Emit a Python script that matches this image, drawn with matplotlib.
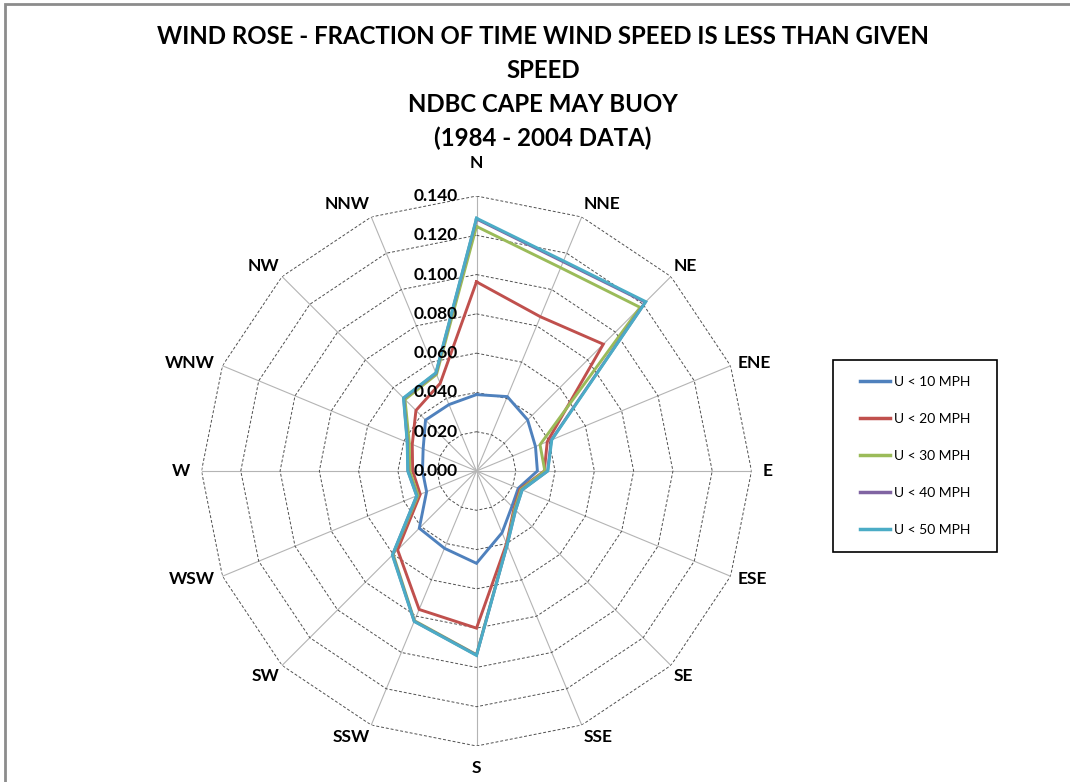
import numpy as np
import matplotlib
matplotlib.use("Agg")
import matplotlib.pyplot as plt
from matplotlib.patches import Rectangle

# ---------------- data ----------------
directions = ['N', 'NNE', 'NE', 'ENE', 'E', 'ESE', 'SE', 'SSE',
              'S', 'SSW', 'SW', 'WSW', 'W', 'WNW', 'NW', 'NNW']
series_names = ['U < 10 MPH', 'U < 20 MPH', 'U < 30 MPH', 'U < 40 MPH', 'U < 50 MPH']
u10 = [0.0389, 0.0410, 0.0368, 0.0325, 0.0310, 0.0230, 0.0255, 0.0340,
       0.0470, 0.0426, 0.0412, 0.0275, 0.0275, 0.0294, 0.0367, 0.0366]
u20 = [0.0963, 0.0850, 0.0913, 0.0390, 0.0345, 0.0240, 0.0270, 0.0400,
       0.0800, 0.0763, 0.0568, 0.0310, 0.0325, 0.0354, 0.0436, 0.0483]
u30 = [0.1245, 0.1120, 0.1178, 0.0350, 0.0348, 0.0245, 0.0275, 0.0405,
       0.0935, 0.0825, 0.0600, 0.0322, 0.0340, 0.0370, 0.0515, 0.0532]
u40 = [0.1283, 0.1153, 0.1215, 0.0412, 0.0362, 0.0251, 0.0281, 0.0407,
       0.0937, 0.0828, 0.0604, 0.0329, 0.0349, 0.0381, 0.0524, 0.0539]
u50 = [0.1287, 0.1158, 0.1219, 0.0415, 0.0363, 0.0252, 0.0282, 0.0408,
       0.0939, 0.0829, 0.0606, 0.0330, 0.0350, 0.0382, 0.0526, 0.0541]
r_ticks = [0.000, 0.020, 0.040, 0.060, 0.080, 0.100, 0.120, 0.140]
title_lines = ['WIND ROSE - FRACTION OF TIME WIND SPEED IS LESS THAN GIVEN',
               'SPEED', 'NDBC CAPE MAY BUOY', '(1984 - 2004 DATA)']

colors = ['#4F81BD', '#C0504D', '#9BBB59', '#8064A2', '#4BACC6']

plt.rcParams['font.family'] = ['Lato', 'DejaVu Sans']

W, H = 1070, 782
fig = plt.figure(figsize=(W / 100, H / 100), dpi=100)
fig.patch.set_facecolor('white')

# outer chart frame
fig.patches.append(Rectangle((5 / W, -0.1), 1.2, 1 - 4 / H + 0.1,
                             transform=fig.transFigure, fill=False,
                             edgecolor='#8C8C8C', lw=2))

cx, cy, R = 476.5, 471, 275
ax = fig.add_axes([(cx - R) / W, (H - cy - R) / H, 2 * R / W, 2 * R / H],
                  projection='polar')
ax.set_theta_zero_location('N')
ax.set_theta_direction(-1)
ax.set_ylim(0, r_ticks[-1])
ax.set_axis_off()

n = len(directions)
theta = np.deg2rad(np.arange(n) * 360.0 / n)
theta_c = np.append(theta, theta[0])

# spokes
for t in theta:
    ax.plot([t, t], [0, r_ticks[-1]], color='#B4B4B4', lw=0.8, zorder=1)
# polygon grid rings
for r in r_ticks[1:]:
    ax.plot(theta_c, [r] * (n + 1), color='#505050', lw=0.7,
            linestyle=(0, (3, 2)), zorder=1)

# series
series = [u10, u20, u30, u40, u50]
handles = []
for vals, name, c in zip(series, series_names, colors):
    v = np.append(vals, vals[0])
    h, = ax.plot(theta_c, v, color=c, lw=2.1, label=name, zorder=3,
                 solid_joinstyle='miter')
    handles.append(h)

# radial tick labels
for r in r_ticks:
    ax.annotate(f'{r:.3f}', xy=(0, r), xytext=(-19 * 0.72, 0),
                textcoords='offset points', ha='right', va='center',
                fontsize=12.5, fontweight='bold', color='black', zorder=4)

# direction labels
for t, lab in zip(theta, directions):
    s, c = np.sin(t), np.cos(t)
    gap = 3 + 8 * s ** 6 + (22 if c > 0 else 11) * abs(c) ** 30
    ha = 'left' if s > 0.1 else ('right' if s < -0.1 else 'center')
    va = 'bottom' if c > 0.5 else ('top' if c < -0.5 else 'center')
    ax.annotate(lab, xy=(t, r_ticks[-1]), xytext=(gap * s * 0.72, gap * c * 0.72),
                textcoords='offset points', ha=ha, va=va, fontsize=12.5,
                fontweight='bold', color='black', annotation_clip=False)

# title
for i, line in enumerate(title_lines):
    fig.text(543 / W, 1 - (36 + 34 * i) / H, line, ha='center', va='center',
             fontsize=17.3, fontweight='bold', color='black')

# legend (frame drawn separately to match the wider box)
bx0, by0, bx1, by1 = 833, 360, 997, 552
fig.patches.append(Rectangle((bx0 / W, 1 - by1 / H), (bx1 - bx0) / W,
                             (by1 - by0) / H, transform=fig.transFigure,
                             fill=True, facecolor='white', edgecolor='black',
                             lw=1.2, zorder=5))
leg = fig.legend(handles=handles, loc='center',
                 bbox_to_anchor=((bx0 + bx1) / 2 / W, 1 - (by0 + by1) / 2 / H),
                 fontsize=10, frameon=False, labelspacing=1.8,
                 handlelength=2.15, handletextpad=0.3, borderpad=0,
                 borderaxespad=0)
leg.set_zorder(6)
for lh in leg.get_lines():
    lh.set_linewidth(2.5)

fig.savefig('out.png', dpi=100)
